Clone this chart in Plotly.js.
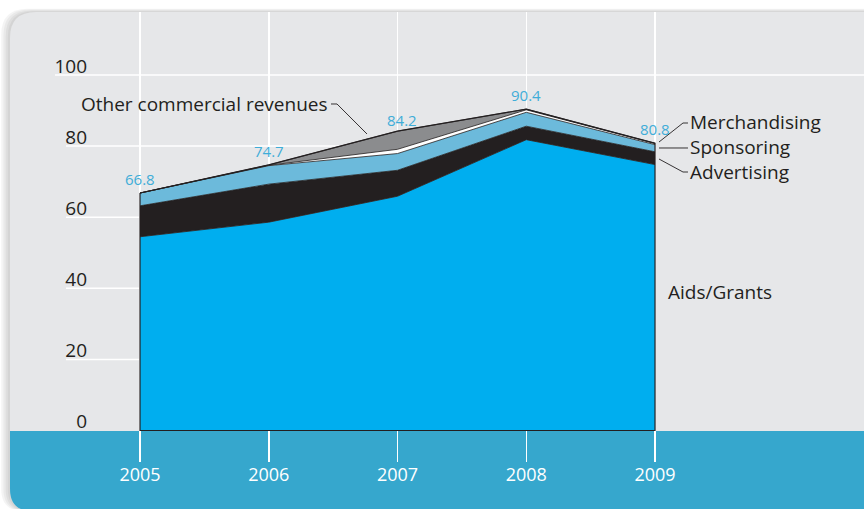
<!DOCTYPE html>
<html>
<head>
<meta charset="utf-8">
<script src="https://cdn.plot.ly/plotly-3.0.1.min.js"></script>
<style>
  html, body { margin: 0; padding: 0; background: #fff; }
  #chart { width: 864px; height: 509px; }
</style>
</head>
<body>
<div id="chart"></div>
<script>
// years on the x axis
var years = [2005, 2006, 2007, 2008, 2009];

// stacked revenue series, bottom to top
var aids          = [54.5, 58.6, 65.9, 81.8, 74.8];
var advertising   = [8.7, 10.7, 7.3, 3.8, 3.6];
var sponsoring    = [3.6, 5.2, 4.7, 3.9, 2.0];
var merchandising = [0.0, 0.1, 1.2, 0.7, 0.3];
var otherRevenues = [0.0, 0.1, 5.1, 0.2, 0.1];

// totals printed above each year
var totals = [66.8, 74.7, 84.2, 90.4, 80.8];

var yTicks = [0, 20, 40, 60, 80, 100];

var ink = "#231f20";

// page geometry helpers: turn pixel spots into paper coords
var W = 864, H = 509, ML = 92, MT = 12, MB = 47, MR = 0;
var pw = W - ML - MR, ph = H - MT - MB;
function px(x) { return ((x - ML) / pw).toFixed(5); }
function py(y) { return ((H - MB - y) / ph).toFixed(5); }
function pt(x, y) { return px(x) + "," + py(y); }

function layer(name, vals, color) {
  return {
    x: years, y: vals, name: name,
    type: "scatter", mode: "lines",
    stackgroup: "one",
    line: {color: ink, width: 0.8},
    fillcolor: color,
    hoverinfo: "skip"
  };
}

var data = [
  layer("Aids/Grants", aids, "#00aeef"),
  layer("Advertising", advertising, ink),
  layer("Sponsoring", sponsoring, "#6cbadb"),
  layer("Merchandising", merchandising, "#ffffff"),
  layer("Other commercial revenues", otherRevenues, "#8b8c8e"),
  // outline round the whole stack
  {
    x: years.concat(years.slice().reverse(), [years[0]]),
    y: totals.concat(years.map(function () { return 0; }), [totals[0]]),
    type: "scatter", mode: "lines",
    line: {color: ink, width: 1.2},
    hoverinfo: "skip"
  }
];

// card, shadow and bottom band
var card = "M " + pt(10, 38) + " Q " + pt(10, 12) + " " + pt(36, 12) +
  " L " + pt(870, 12) + " L " + pt(870, 511) + " L " + pt(32, 511) +
  " Q " + pt(10, 511) + " " + pt(10, 489) + " Z";
var band = "M " + pt(10, 431) + " L " + pt(870, 431) + " L " + pt(870, 511) +
  " L " + pt(32, 511) + " Q " + pt(10, 511) + " " + pt(10, 489) + " Z";

var shapes = [];
for (var i = 4; i >= 1; i--) {
  var dx = -2.2 * i, dy = -0.8 * i;
  shapes.push({
    type: "path", xref: "paper", yref: "paper", layer: "below",
    path: "M " + pt(10 + dx, 38 + dy) + " Q " + pt(10 + dx, 12 + dy) + " " + pt(36 + dx, 12 + dy) +
      " L " + pt(870, 12 + dy) + " L " + pt(870, 511) + " L " + pt(32 + dx, 511) +
      " Q " + pt(10 + dx, 511) + " " + pt(10 + dx, 489) + " Z",
    fillcolor: "rgba(0,0,0,0.045)", line: {width: 0}
  });
}
shapes.push({type: "path", xref: "paper", yref: "paper", layer: "below",
  path: card, fillcolor: "#e6e7e9", line: {width: 0}});
shapes.push({type: "path", xref: "paper", yref: "paper", layer: "below",
  path: band, fillcolor: "#36a7cd", line: {width: 0}});

// horizontal grid lines, underlining the tick labels
yTicks.forEach(function (v) {
  if (v === 0) return;
  shapes.push({
    type: "line", xref: "paper", yref: "y", layer: "below",
    x0: px(v >= 100 ? 55 : 66), x1: v >= 100 ? 1 : px(655), y0: v, y1: v,
    line: {color: "#ffffff", width: 1.5}
  });
});

// leader lines for the labels
function leader(path) {
  return {type: "path", xref: "paper", yref: "paper", layer: "above",
    path: path, line: {color: ink, width: 0.9}};
}
shapes.push(leader("M " + pt(331, 104) + " L " + pt(337, 104) + " L " + pt(367, 134)));
shapes.push(leader("M " + pt(659, 142) + " L " + pt(683, 123) + " L " + pt(688, 123)));
shapes.push(leader("M " + pt(659, 148) + " L " + pt(688, 148)));
shapes.push(leader("M " + pt(659, 159) + " L " + pt(683, 172) + " L " + pt(688, 172)));

var annotations = totals.map(function (t, k) {
  return {
    x: years[k], y: t, xref: "x", yref: "y",
    text: t.toFixed(1), showarrow: false,
    yshift: k === 2 ? 11 : 14, xshift: k === 2 ? 4 : 0,
    font: {family: "Open Sans", size: 15, color: "#3fadd8"}
  };
});

function label(text, x, y, anchor) {
  return {xref: "paper", yref: "paper", x: px(x), y: py(y), text: text,
    showarrow: false, xanchor: anchor, yanchor: "middle",
    font: {family: "Open Sans", size: 19, color: ink}};
}
annotations.push(label("Other commercial revenues", 330, 104, "right"));
annotations.push(label("Merchandising", 688, 122, "left"));
annotations.push(label("Sponsoring", 688, 147, "left"));
annotations.push(label("Advertising", 688, 172, "left"));
annotations.push(label("Aids/Grants", 666, 292, "left"));

var layout = {
  width: W, height: H,
  margin: {l: ML, r: MR, t: MT, b: MB, pad: 0},
  paper_bgcolor: "#ffffff",
  plot_bgcolor: "rgba(0,0,0,0)",
  showlegend: false,
  hovermode: false,
  font: {family: "Open Sans", color: ink},
  xaxis: {
    range: [2004.6272, 2010.623],
    tickvals: years, ticktext: years.map(String),
    showgrid: true, gridcolor: "#ffffff", gridwidth: 1.5,
    zeroline: false, showline: false, ticks: "",
    tickfont: {family: "Open Sans", size: 18, color: "#ffffff"},
    fixedrange: true
  },
  yaxis: {
    range: [-8.86, 117.72],
    tickvals: yTicks, ticktext: yTicks.map(String),
    showgrid: false, zeroline: false, showline: false, ticks: "",
    ticklabelshift: -9,
    ticklabelstandoff: 4,
    tickfont: {family: "Open Sans", size: 19, color: ink},
    fixedrange: true
  },
  shapes: shapes,
  annotations: annotations
};

Plotly.newPlot("chart", data, layout, {displayModeBar: false, staticPlot: true});
</script>
</body>
</html>
